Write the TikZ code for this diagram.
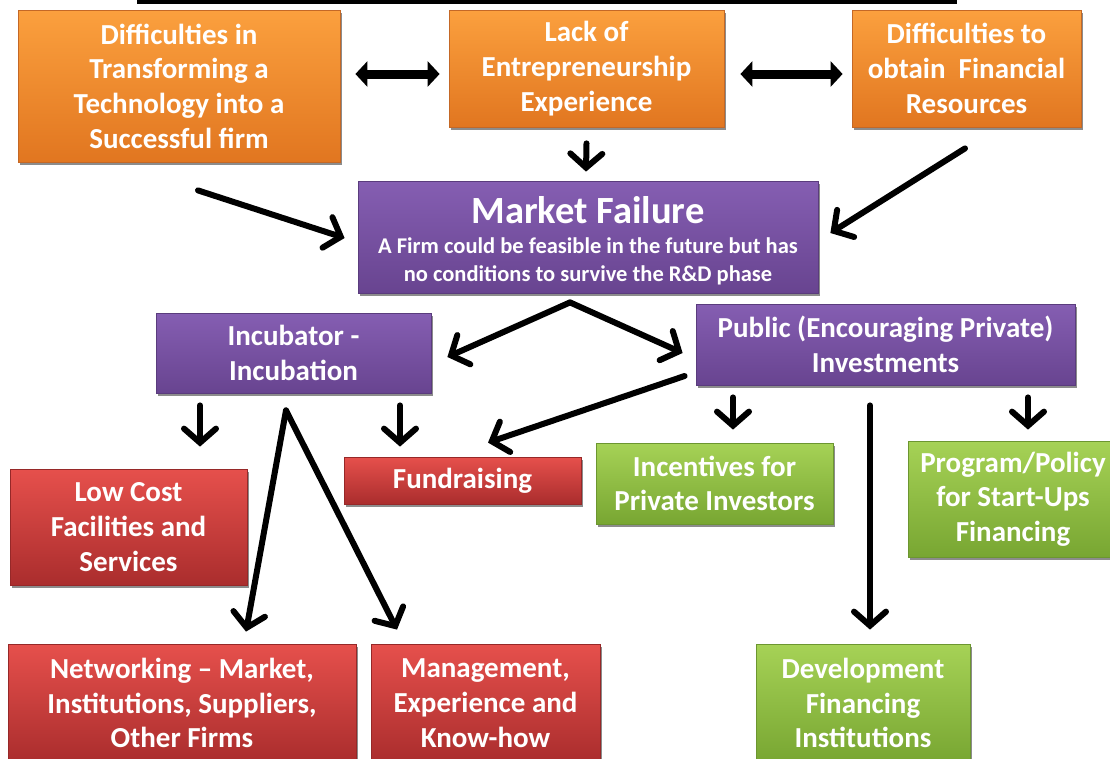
\documentclass[tikz,border=0pt]{standalone}
\usepackage{fontspec}
\setmainfont{Carlito}
\usetikzlibrary{arrows.meta,shadows,calc}

\definecolor{orgT}{RGB}{251,160,62}
\definecolor{orgB}{RGB}{225,118,32}
\definecolor{orgD}{RGB}{196,104,38}
\definecolor{purT}{RGB}{133,94,178}
\definecolor{purB}{RGB}{104,68,144}
\definecolor{purD}{RGB}{90,60,125}
\definecolor{redT}{RGB}{230,80,76}
\definecolor{redB}{RGB}{170,45,45}
\definecolor{redD}{RGB}{150,40,40}
\definecolor{grnT}{RGB}{166,210,86}
\definecolor{grnB}{RGB}{120,166,50}
\definecolor{grnD}{RGB}{108,150,48}

\tikzset{
  box/.style={draw, line width=0.8pt, inner sep=0pt, align=center, text=white,
    font=\bfseries\fontsize{29}{34.7}\selectfont,
    drop shadow={shadow xshift=2pt, shadow yshift=-2.5pt, opacity=0.45, fill=black}},
  obox/.style={box, draw=orgD, top color=orgT, bottom color=orgB},
  pbox/.style={box, draw=purD, top color=purT, bottom color=purB},
  rbox/.style={box, draw=redD, top color=redT, bottom color=redB},
  gbox/.style={box, draw=grnD, top color=grnT, bottom color=grnB},
  arr/.style={line width=6pt, line cap=round,
    -{Straight Barb[length=14pt,width=32pt,line cap=round]}},
  dbl/.style={line width=9pt,
    {Triangle[length=12pt,width=25pt]}-{Triangle[length=12pt,width=25pt]}},
}

\begin{document}
\begin{tikzpicture}[x=1pt, y=-1pt]
  \useasboundingbox (0,0) rectangle (1110,758);
  \clip (0,0) rectangle (1110,758);

  % title bar
  \fill[black] (137,0) rectangle (957,3.5);

  % causes
  \node[obox, minimum width=322pt, minimum height=152pt] (A) at (179,86)
    {Difficulties in\\Transforming a\\Technology into a\\Successful firm};
  \node[obox, minimum width=275pt, minimum height=117pt] (B) at (586.5,68.5)
    {Lack of\\Entrepreneurship\\Experience};
  \node[obox, minimum width=229pt, minimum height=117pt] (C) at (966.5,68.5)
    {Difficulties to\\obtain\ \ Financial\\Resources};

  % central problem
  \node[pbox, minimum width=460pt, minimum height=112pt] (MF) at (588,237)
    {\rule{0pt}{35pt}{\fontsize{38.5}{40}\selectfont Market Failure}\\[-5pt]
     {\fontsize{22.5}{28}\selectfont A Firm could be feasible in the future but has}\\[-6.7pt]
     {\fontsize{22.5}{28}\selectfont no conditions to survive the R\&D phase}};

  % responses
  \node[pbox, minimum width=275pt, minimum height=80pt] (Inc) at (293.5,353)
    {Incubator -\\Incubation};
  \node[pbox, minimum width=379pt, minimum height=81pt] (Pub) at (885.5,344.5)
    {Public (Encouraging Private)\\Investments};

  % incubator services
  \node[rbox, minimum width=237pt, minimum height=47pt] (Fund) at (462.5,480.5)
    {Fundraising};
  \node[rbox, minimum width=237pt, minimum height=116pt] (Low) at (128.5,527)
    {Low Cost\\Facilities and\\Services};
  \node[rbox, minimum width=348pt, minimum height=118pt] (Net) at (182,703)
    {Networking -- Market,\\Institutions, Suppliers,\\Other Firms};
  \node[rbox, minimum width=229pt, minimum height=118pt] (Mgmt) at (485.5,703)
    {Management,\\Experience and\\Know-how};

  % public instruments
  \node[gbox, minimum width=237pt, minimum height=81pt] (Inv) at (714.5,483.5)
    {Incentives for\\Private Investors};
  \node[gbox, minimum width=210pt, minimum height=116pt] (Prog) at (1013,499)
    {Program/Policy\\for Start-Ups\\Financing};
  \node[gbox, minimum width=214pt, minimum height=118pt] (Dev) at (863,703)
    {Development\\Financing\\Institutions};

  % links between the causes
  \draw[dbl] ($(A.east)+(15,-12)$) -- ($(B.west)+(-9,5.5)$);
  \draw[dbl] ($(B.east)+(16,5.5)$) -- ($(C.west)+(-9,5.5)$);

  % causes lead to market failure
  \draw[arr] ($(B.south)+(0,16)$) -- ($(MF.north)+(-2,-9)$);
  \draw[arr] ($(A.south)+(19,28)$) -- ($(MF.west)+(-13,1)$);
  \draw[arr] ($(C.south)+(-1.5,21)$) -- ($(MF.east)+(12,-4)$);

  % market failure to the two responses
  \draw[arr] ($(MF.south)+(-18,9)$) -- ($(Inc.east)+(16,4)$);
  \draw[arr] ($(MF.south)+(-18,9)$) -- ($(Pub.west)+(-13,8.5)$);

  % incubator services
  \draw[arr] ($(Inc.south)+(-93.5,12)$) -- ($(Low.north)+(71.5,-22)$);
  \draw[arr] ($(Inc.south)+(106.5,12)$) -- ($(Fund.north)+(-62.5,-10)$);
  \draw[arr] ($(Inc.south)+(-7.5,17)$) -- ($(Net.north)+(64,-12)$);
  \draw[arr] ($(Inc.south)+(-7.5,17)$) -- ($(Mgmt.north)+(-88.5,-14)$);

  % public instruments
  \draw[arr] ($(Pub.west)+(-11,31.5)$) -- ($(Fund.north)+(25.5,-14)$);
  \draw[arr] ($(Pub.south)+(-152.5,12)$) -- ($(Inv.north)+(18.5,-13)$);
  \draw[arr] ($(Pub.south)+(-15.5,20)$) -- ($(Dev.north)+(7,-14)$);
  \draw[arr] ($(Pub.south)+(142.5,12)$) -- ($(Prog.north)+(15,-11)$);
\end{tikzpicture}
\end{document}
